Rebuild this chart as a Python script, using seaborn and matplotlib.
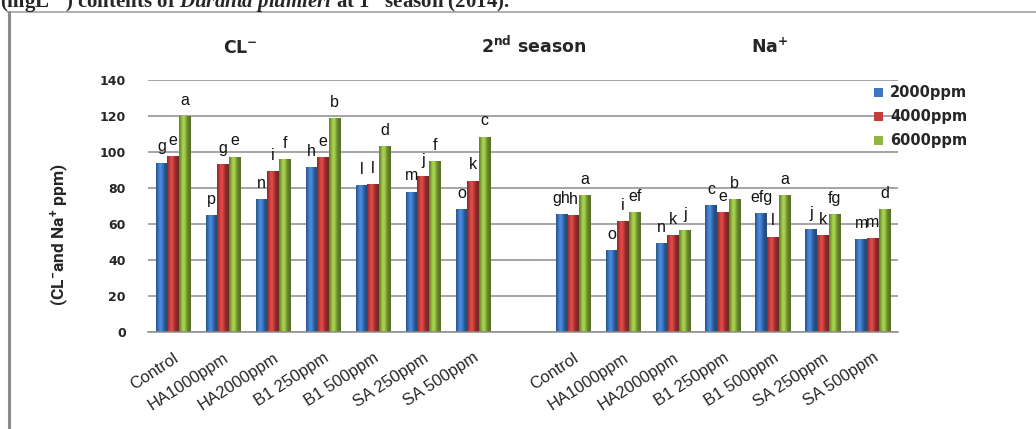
import numpy as np
import pandas as pd
import matplotlib
matplotlib.use("Agg")
import matplotlib.pyplot as plt
import seaborn as sns
from matplotlib.colors import to_rgb
from matplotlib.lines import Line2D
from matplotlib.patches import Patch

# ---- data -----------------------------------------------------------------
treatments = ["Control", "HA1000ppm", "HA2000ppm", "B1 250ppm",
              "B1 500ppm", "SA 250ppm", "SA 500ppm"]
concentrations = ["2000ppm", "4000ppm", "6000ppm"]

cl_2000 = [94.0, 65.0, 73.7, 91.5, 81.5, 78.0, 68.2]
cl_4000 = [97.8, 93.3, 89.3, 97.0, 82.0, 86.5, 84.0]
cl_6000 = [120.0, 97.4, 96.0, 118.7, 103.3, 95.0, 108.5]

na_2000 = [65.4, 45.4, 49.4, 70.5, 66.0, 57.0, 51.7]
na_4000 = [65.0, 61.5, 53.7, 66.7, 53.0, 53.7, 52.0]
na_6000 = [76.0, 66.5, 56.5, 73.7, 76.0, 65.5, 68.2]

cl_2000_sig = ["g", "p", "n", "h", "l", "m", "o"]
cl_4000_sig = ["e", "g", "i", "e", "l", "j", "k"]
cl_6000_sig = ["a", "e", "f", "b", "d", "f", "c"]
na_2000_sig = ["gh", "o", "n", "c", "efg", "j", "m"]
na_4000_sig = ["h", "i", "k", "e", "l", "k", "m"]
na_6000_sig = ["a", "ef", "j", "b", "a", "fg", "d"]

y_ticks = [0, 20, 40, 60, 80, 100, 120, 140]

colors = ["#3D77C2", "#C23F3C", "#8FB640"]

# ---- long table --------------------------------------------------------------
cl_slots = [f"CL:{t}" for t in treatments]
na_slots = [f"Na:{t}" for t in treatments]
slot_order = cl_slots + ["blank"] + na_slots
tick_labels = treatments + [""] + treatments

rows = []
for conc, cl_vals, na_vals in zip(concentrations,
                                  [cl_2000, cl_4000, cl_6000],
                                  [na_2000, na_4000, na_6000]):
    for s, v in zip(cl_slots, cl_vals):
        rows.append({"slot": s, "conc": conc, "value": v})
    for s, v in zip(na_slots, na_vals):
        rows.append({"slot": s, "conc": conc, "value": v})
df = pd.DataFrame(rows)

sig_by_conc = [cl_2000_sig + na_2000_sig,
               cl_4000_sig + na_4000_sig,
               cl_6000_sig + na_6000_sig]

# ---- figure -----------------------------------------------------------------
sns.set_style("white")
plt.rcParams["mathtext.fontset"] = "custom"
plt.rcParams["mathtext.rm"] = "Liberation Serif:bold"
plt.rcParams["mathtext.it"] = "Liberation Serif:italic:bold"
plt.rcParams["mathtext.bf"] = "Liberation Serif:bold"

W, H = 1036, 429
fig = plt.figure(figsize=(W / 100, H / 100), dpi=100)
ax = fig.add_axes([148 / W, 1 - 332 / H, 750 / W, 252 / H])

sns.barplot(data=df, x="slot", y="value", hue="conc", order=slot_order,
            hue_order=concentrations, palette=colors, saturation=1,
            width=0.7, linewidth=0, legend=False, errorbar=None, ax=ax)

ax.set_xlim(-0.5, len(slot_order) - 0.5)
ax.set_ylim(0, 140)
ax.set_yticks(y_ticks)
ax.set_xlabel("")
ax.set_ylabel("")

grid_c = "#8C8C8C"
ax.yaxis.grid(True, color=grid_c, linewidth=1.1)
ax.set_axisbelow(True)
for side in ["left", "right", "top"]:
    ax.spines[side].set_visible(False)
ax.spines["bottom"].set_color(grid_c)
ax.spines["bottom"].set_linewidth(1.1)

ax.tick_params(axis="y", length=6, width=1.1, color=grid_c, pad=10,
               labelsize=9)
for lab in ax.get_yticklabels():
    lab.set_fontweight("bold")
    lab.set_fontfamily("DejaVu Sans")

ax.set_xticks(range(len(slot_order)))
ax.set_xticklabels(tick_labels, rotation=33, ha="right",
                   rotation_mode="anchor", fontsize=12,
                   fontfamily="Liberation Sans")
ax.tick_params(axis="x", which="major", length=0, pad=13)
ax.set_xticks(np.arange(-0.5, len(slot_order), 1.0), minor=True)
ax.tick_params(axis="x", which="minor", length=4, width=1.1, color=grid_c,
               direction="out")

# cylinder-like shading on each bar
xl, yl = ax.get_xlim(), ax.get_ylim()
t = np.linspace(0, 1, 40)
profile = 0.62 + 0.55 * np.exp(-((t - 0.38) / 0.28) ** 2)
for cont in ax.containers:
    for bar in cont:
        base = np.array(to_rgb(bar.get_facecolor()))
        rgb = np.clip(base[None, :] * profile[:, None], 0, 1)
        x0, w = bar.get_x(), bar.get_width()
        h = bar.get_height()
        im = ax.imshow(rgb[None, :, :], extent=[x0, x0 + w, 0, h],
                       aspect="auto", interpolation="bilinear", zorder=2)
        im.set_clip_path(bar)
ax.set_xlim(xl)
ax.set_ylim(yl)

# significance letters above bars
for cont, labels in zip(ax.containers, sig_by_conc):
    ax.bar_label(cont, labels=labels, padding=6, fontsize=11.5,
                 fontfamily="Liberation Sans", color="#111111")

# panel headers
hdr = dict(fontsize=12.5, fontweight="bold", fontfamily="DejaVu Sans",
           ha="center", va="baseline")
fig.text(240 / W, 1 - 53 / H, r"CL$\mathregular{^{-}}$", **hdr)
fig.text(534 / W, 1 - 53 / H, r"2$\mathregular{^{nd}}$ season", **hdr)
fig.text(770 / W, 1 - 53 / H, r"Na$\mathregular{^{+}}$", **hdr)

# y-axis title
fig.text(60 / W, 1 - 235 / H, r"(CL$\mathregular{^{-}}$and Na$\mathregular{^{+}}$ ppm)",
         rotation=90, ha="center", va="center", fontsize=12.5,
         fontweight="bold", fontfamily="Roboto")

# legend
handles = [Patch(facecolor=c, edgecolor="none") for c in colors]
fig.legend(handles, concentrations, loc="upper left",
           bbox_to_anchor=(867 / W, 1 - 78 / H), frameon=False,
           handlelength=0.6, handleheight=0.6, handletextpad=0.5,
           labelspacing=0.62, borderpad=0,
           prop={"family": "DejaVu Sans", "weight": "bold", "size": 10.5})

# caption line running off the top edge
fig.text(0, 1 - 8 / H,
         r"(mgL$^{-1}$) contents of $\it{Duranta\ plumieri}$ at 1$^{st}$ season (2014).",
         ha="left", va="baseline", fontsize=15, fontweight="bold",
         fontfamily="Liberation Serif")

# surrounding frame
fig.add_artist(Line2D([7 / W, 1.0], [1 - 11.5 / H, 1 - 11.5 / H],
                      transform=fig.transFigure, color="#9A9A9A", lw=1.1))
fig.add_artist(Line2D([8.5 / W, 8.5 / W], [0, 1 - 11.5 / H],
                      transform=fig.transFigure, color="#8A8A8A", lw=2.2))

fig.savefig("out.png", dpi=100)
